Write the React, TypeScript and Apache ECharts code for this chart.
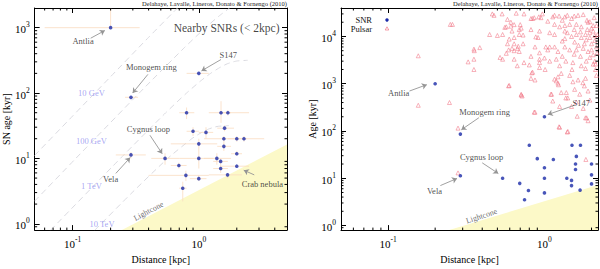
import React, { useEffect, useRef } from 'react';
import * as echarts from 'echarts';

const SERIF = "'Liberation Serif', 'DejaVu Serif', serif";
const CITATION = 'Delahaye, Lavalle, Lineros, Donato & Fornengo (2010)';

// SNR catalogue: distance [kpc], age [kyr]
const snrDistance = [0.2, 1.0, 0.29, 0.8, 1.5, 1.7, 1.6, 0.9, 1.14, 1.58, 2.0, 2.28, 1.0, 1.58, 2.0, 0.29, 0.54, 1.0, 1.39, 1.49, 0.695, 2.0, 1.49, 0.79, 1.69, 1.0, 0.746];
const snrAge = [1000, 200, 86, 50, 50, 50, 29, 26, 25, 20, 20, 20, 16.7, 15.3, 11.8, 11.3, 10, 10, 10, 9.0, 7.8, 7.6, 7.0, 5.5, 5.6, 4.9, 3.5];
const snrDistLo = [0.06, 0.8, 0.26, 0.7, 1.2, 1.5, 1.4, 0.8, 1.0, 1.1, 1.7, 2.0, 0.6, 1.4, 1.8, 0.22, 0.42, 0.7, 1.1, 1.3, 0.6, 1.5, 1.3, 0.4, 1.2, 0.85, 0.7];
const snrDistHi = [0.34, 1.2, 0.33, 0.92, 1.8, 2.5, 1.9, 1.0, 1.3, 2.0, 2.4, 3.3, 1.4, 1.8, 2.2, 0.38, 0.7, 1.3, 1.8, 1.7, 0.8, 2.5, 1.7, 1.2, 2.2, 1.15, 0.8];
const snrAgeLo = [1000, 200, 86, 40, 35, 45, 26, 22, 20, 18, 18, 18, 13, 13, 11, 10, 8, 7, 8, 8, 7, 7.6, 6, 4.5, 5, 4.5, 2.2];
const snrAgeHi = [2000, 200, 86, 60, 75, 55, 32, 30, 30, 22, 22, 22, 20, 18, 13, 12.5, 12, 13, 12, 10, 8.6, 7.6, 8, 6.5, 6, 5.5, 4.4];

// Pulsars: distance [kpc], age [kyr]
const pulsars: number[][] = [
  [0.156, 3900], [0.156, 350], [0.247, 400], [0.25, 18000], [0.258, 18000], [0.325, 2900], [0.354, 5400], [0.356, 5000],
  [0.386, 5800], [0.354, 3300], [0.354, 2000], [0.446, 11000], [0.464, 30000], [0.476, 28000], [0.5, 10500], [0.536, 30000],
  [0.54, 11000], [0.558, 15600], [0.58, 23000], [0.595, 8800], [0.595, 920], [0.28, 115], [0.28, 13],
  [0.61, 16500], [0.64, 17800], [0.62, 13000], [0.68, 6200], [0.672, 5600], [0.69, 14000], [0.7, 17800], [0.64, 9500],
  [0.73, 10700], [0.73, 7000], [0.8, 2500], [0.84, 24000], [0.92, 26000], [0.95, 25000], [0.82, 3800], [0.88, 9800],
  [0.87, 6000], [0.93, 3300], [0.93, 2200], [1.01, 2000], [0.72, 550], [0.87, 1200], [1.0, 3500], [1.05, 5200], [1.08, 6000],
  [1.13, 26000], [1.16, 28000], [1.11, 600], [1.19, 1150], [1.22, 1030],
  [0.54, 3300], [0.57, 4400], [0.59, 5200], [0.64, 5000], [0.67, 2400],
  [0.66, 31000], [0.74, 30000], [0.82, 24000], [0.86, 25000], [0.97, 30000], [1.24, 27000], [1.35, 26000], [1.49, 24000],
  [1.64, 28000], [1.77, 29000], [1.87, 22000], [1.95, 20500],
  [0.61, 20000], [0.57, 16000], [0.71, 15000], [0.82, 14000], [0.93, 13000], [1.16, 18000], [1.25, 16000], [1.35, 17000],
  [1.45, 18000], [1.6, 18000], [1.72, 16000], [1.9, 20000], [2.0, 15000], [2.05, 13000],
  [0.69, 11000], [0.91, 9500], [1.08, 12000], [1.16, 11000], [1.35, 13000], [1.4, 12000], [1.49, 10000], [1.6, 11000],
  [1.72, 9500], [1.83, 11000], [1.95, 9500], [2.1, 8200], [2.0, 7000], [1.35, 9000], [1.56, 7600],
  [0.58, 7000], [0.64, 7000], [0.62, 5600], [0.69, 4800], [1.02, 6000], [1.16, 6000], [1.22, 4800], [1.35, 6000],
  [1.45, 5200], [1.6, 5200], [1.77, 5600], [1.9, 4800], [2.05, 4100], [1.95, 3600], [2.1, 3000], [0.93, 4500],
  [0.52, 3600], [0.64, 3300], [0.74, 2800], [0.84, 1750], [0.93, 2800], [1.08, 3000], [1.19, 3300], [1.25, 2400],
  [1.37, 3000], [1.52, 2800], [1.72, 2400], [1.83, 2100], [2.05, 2600], [1.22, 1400], [1.45, 1500], [1.64, 1200],
  [1.83, 1300], [2.15, 1500],
  [0.59, 900], [0.71, 600], [0.82, 1300], [1.1, 600], [1.28, 650], [1.37, 500], [1.56, 760], [1.68, 600], [1.9, 700], [1.95, 450],
  [0.86, 250], [1.13, 430], [1.25, 330], [1.49, 330], [1.77, 300], [1.83, 190], [1.9, 165], [1.25, 120], [1.4, 95], [1.84, 25],
  [0.71, 575], [0.83, 1700], [0.87, 250], [1.16, 1250], [1.23, 950], [1.28, 1650], [1.38, 650], [1.41, 500], [1.52, 1100],
  [1.6, 410], [1.62, 205], [1.86, 190], [1.76, 1050], [1.8, 900], [1.41, 98], [1.24, 123],
  [1.55, 14000], [1.7, 12500], [1.8, 7000], [1.85, 8500], [1.95, 12000], [2.1, 10500], [2.15, 6000], [2.0, 5200],
  [1.7, 3800], [1.55, 4200], [1.3, 3800], [1.85, 3000], [2.12, 2000], [1.5, 2000], [1.3, 8000], [1.65, 6500],
  [2.05, 17000], [1.88, 14000], [1.4, 28000], [1.55, 27000], [1.3, 22000], [1.05, 21000], [2.08, 25000],
  [2.15, 17000], [2.18, 11000], [2.17, 4500], [2.12, 2600],
];

// light-cone boundary (distance, age)
const lightconeLeft = [[0.245, 0.8], [5, 16.3]];
const lightconeRight = [[0.245, 0.8], [2.2, 7.17]];

// diffusion horizons (distance, age)
const diff10GeV = [[0.05, 11.1], [0.1, 44.5], [0.2, 178], [0.4, 712], [0.678, 2000]];
const diff100GeV = [[0.05, 2.22], [0.106, 10], [0.337, 100], [0.773, 500], [1.13, 1000], [1.442, 1500], [1.753, 2000]];
const diff1TeV = [[0.067, 0.8], [0.239, 10], [0.547, 50], [0.8, 100], [1.02, 150], [1.24, 200], [1.49, 250], [1.68, 280], [1.87, 300], [2.02, 310], [2.44, 317]];
const diff10TeV = [[0.15, 0.8], [0.296, 3], [0.567, 10], [0.879, 20], [1.056, 25], [1.19, 28], [1.32, 30], [1.43, 31], [1.73, 31.7]];
const diffNames = ['10 GeV', '100 GeV', '1 TeV', '10 TeV'];
const diffLabelAt = [[0.141, 99], [0.141, 18.7], [0.141, 3.8], [0.171, 1.0]];

// annotations
const leftNotes = ['Antlia', 'Monogem ring', 'S147', 'Cygnus loop', 'Vela', 'Crab nebula'];
const leftNoteAt = [[0.121, 635], [0.42, 252], [1.71, 385], [0.398, 28], [0.2, 4.9], [3.19, 4.0]];
const leftArrows = [
  [[0.139, 690], [0.18, 905]],
  [[0.395, 193], [0.299, 100]],
  [[1.5, 326], [1.05, 218]],
  [[0.41, 22.6], [0.513, 11.8]],
  [[0.22, 5.9], [0.286, 10.3]],
  [[2.75, 5.6], [2.27, 6.6]],
];
const rightNotes = ['Antlia', 'Monogem ring', 'S147', 'Cygnus loop', 'Vela'];
const rightNoteAt = [[0.117, 622], [0.414, 251], [1.72, 393], [0.396, 28.8], [0.198, 5.3]];
const rightArrows = [
  [[0.137, 700], [0.177, 955]],
  [[0.381, 191], [0.294, 106]],
  [[1.56, 352], [1.05, 222]],
  [[0.4, 21.2], [0.507, 12.6]],
  [[0.216, 7.0], [0.276, 9.9]],
];

// minor ticks
const xMinorLeft = [0.06, 0.07, 0.08, 0.09, 0.2, 0.3, 0.4, 0.5, 0.6, 0.7, 0.8, 0.9, 2, 3, 4];
const yMinorLeft = [0.9, 2, 3, 4, 5, 6, 7, 8, 9, 20, 30, 40, 50, 60, 70, 80, 90, 200, 300, 400, 500, 600, 700, 800, 900];
const xMinorRight = [0.06, 0.07, 0.08, 0.09, 0.2, 0.3, 0.4, 0.5, 0.6, 0.7, 0.8, 0.9, 2];
const yMinorRight = [0.9, 2, 3, 4, 5, 6, 7, 8, 9, 20, 30, 40, 50, 60, 70, 80, 90, 200, 300, 400, 500, 600, 700, 800, 900,
  2000, 3000, 4000, 5000, 6000, 7000, 8000, 9000, 20000, 30000];

const SNR_COLOR = '#1a2aa8';
const PSR_COLOR = '#f07585';

const powerLabel = (v: number) => {
  const l = Math.log10(v);
  const e = Math.round(l);
  if (Math.abs(l - e) > 1e-6) return '';
  return `{b|10}{s|${e}}`;
};
const axisRich = {
  b: { fontSize: 11, fontFamily: SERIF, color: '#000', lineHeight: 14, verticalAlign: 'bottom' },
  s: { fontSize: 7.5, fontFamily: SERIF, color: '#000', lineHeight: 7, verticalAlign: 'top' },
};

function logAxis(grid: number, position: string, min: number, max: number, showLabel: boolean, name = '', nameGap = 0) {
  return {
    type: 'log', logBase: 10, gridIndex: grid, position, min, max,
    axisLine: { show: true, onZero: false, lineStyle: { color: '#000', width: 1 } },
    axisTick: { show: true, inside: true, length: 5, lineStyle: { color: '#000', width: 1 } },
    axisLabel: { show: showLabel, formatter: powerLabel, rich: axisRich, margin: 5, showMinLabel: false, showMaxLabel: false },
    splitLine: { show: false },
    minorTick: { show: false },
    name, nameLocation: 'middle', nameGap,
    nameTextStyle: { fontFamily: SERIF, fontSize: 10, color: '#000' },
  };
}

function minorTicks(xi: number, yi: number, values: number[], dir: 'x' | 'y') {
  return {
    type: 'custom', xAxisIndex: xi, yAxisIndex: yi, silent: true, clip: false, z: 10,
    data: values.map((v) => (dir === 'x' ? [v, 1] : [1, v])),
    renderItem: (params: any, api: any) => {
      const cs = params.coordSys;
      const p = api.coord([api.value(0), api.value(1)]);
      const style = { stroke: '#000', lineWidth: 1 };
      if (dir === 'x') {
        return {
          type: 'group', children: [
            { type: 'line', shape: { x1: p[0], y1: cs.y + cs.height, x2: p[0], y2: cs.y + cs.height - 2.5 }, style },
            { type: 'line', shape: { x1: p[0], y1: cs.y, x2: p[0], y2: cs.y + 2.5 }, style },
          ],
        };
      }
      return {
        type: 'group', children: [
          { type: 'line', shape: { x1: cs.x, y1: p[1], x2: cs.x + 2.5, y2: p[1] }, style },
          { type: 'line', shape: { x1: cs.x + cs.width, y1: p[1], x2: cs.x + cs.width - 2.5, y2: p[1] }, style },
        ],
      };
    },
  };
}

function notes(xi: number, yi: number, names: string[], at: number[][], color: string, fontSize: number, rotate = 0) {
  return {
    type: 'scatter', xAxisIndex: xi, yAxisIndex: yi, silent: true, z: 20,
    symbolSize: 1, itemStyle: { color: 'rgba(0,0,0,0)' },
    data: names.map((n, i) => ({ name: n, value: at[i] })),
    label: { show: true, position: 'inside', formatter: '{b}', color, fontSize, fontFamily: SERIF, rotate },
  };
}

function arrows(xi: number, yi: number, list: number[][][]) {
  return {
    type: 'lines', coordinateSystem: 'cartesian2d', xAxisIndex: xi, yAxisIndex: yi, silent: true, z: 15,
    symbol: ['none', 'arrow'], symbolSize: 5,
    lineStyle: { color: '#959595', width: 0.9, opacity: 1 },
    data: list.map((c) => ({ coords: c })),
  };
}

function lightcone(xi: number, yi: number, data: number[][]) {
  return {
    type: 'line', xAxisIndex: xi, yAxisIndex: yi, silent: true, z: 1, symbol: 'none',
    data, lineStyle: { width: 0 }, areaStyle: { color: '#fcf9c8', opacity: 1, origin: 'start' },
  };
}

function diffLine(data: number[][]) {
  return {
    type: 'line', xAxisIndex: 0, yAxisIndex: 0, silent: true, z: 2, symbol: 'none', smooth: 0.2,
    data, lineStyle: { color: '#dadae0', width: 1, type: [6, 4] },
  };
}

export default function App() {
  const ref = useRef<HTMLDivElement>(null);
  useEffect(() => {
    if (!ref.current) return;
    const chart = echarts.init(ref.current, null, { renderer: 'svg' });
    const snrPoints = snrDistance.map((d, i) => [d, snrAge[i]]);
    const errRows = snrDistance.map((d, i) => [d, snrAge[i], snrDistLo[i], snrDistHi[i], snrAgeLo[i], snrAgeHi[i]]);
    const option: any = {
      animation: false,
      backgroundColor: '#fff',
      textStyle: { fontFamily: SERIF },
      grid: [
        { left: 28, right: 313, top: 8, bottom: 26 },
        { left: 341, right: 2, top: 8, bottom: 26 },
      ],
      xAxis: [
        logAxis(0, 'bottom', 0.05, 5, true, 'Distance [kpc]', 14),
        logAxis(0, 'top', 0.05, 5, false),
        logAxis(1, 'bottom', 0.05, 2.2, true, 'Distance [kpc]', 14),
        logAxis(1, 'top', 0.05, 2.2, false),
      ],
      yAxis: [
        logAxis(0, 'left', 0.8, 2000, true, 'SN age [kyr]', 18),
        logAxis(0, 'right', 0.8, 2000, false),
        logAxis(1, 'left', 0.8, 40000, true, 'Age [kyr]', 19),
        logAxis(1, 'right', 0.8, 40000, false),
      ],
      graphic: [
        { type: 'text', right: 313, top: 0, style: { text: CITATION, fontSize: 6.5, fontFamily: SERIF, fill: '#222' } },
        { type: 'text', right: 2, top: 0, style: { text: CITATION, fontSize: 6.5, fontFamily: SERIF, fill: '#222' } },
        { type: 'text', x: 372, y: 20, style: { text: 'SNR', fontSize: 8.5, fontFamily: SERIF, fill: '#111', align: 'right', verticalAlign: 'middle' } },
        { type: 'text', x: 372, y: 28.5, style: { text: 'Pulsar', fontSize: 8.5, fontFamily: SERIF, fill: '#111', align: 'right', verticalAlign: 'middle' } },
        { type: 'circle', shape: { cx: 387, cy: 20, r: 1.7 }, style: { fill: SNR_COLOR } },
        { type: 'polygon', shape: { points: [[387, 26.8], [385.2, 30], [388.8, 30]] }, style: { fill: 'none', stroke: PSR_COLOR, lineWidth: 0.7 } },
      ],
      series: [
        lightcone(0, 0, lightconeLeft),
        diffLine(diff10GeV), diffLine(diff100GeV), diffLine(diff1TeV), diffLine(diff10TeV),
        {
          type: 'custom', xAxisIndex: 0, yAxisIndex: 0, silent: true, z: 5,
          data: errRows, encode: { x: 0, y: 1 },
          renderItem: (params: any, api: any) => {
            const d = api.value(0), t = api.value(1);
            const a = api.coord([api.value(2), t]);
            const b = api.coord([api.value(3), t]);
            const c = api.coord([d, api.value(4)]);
            const e = api.coord([d, api.value(5)]);
            const style = { stroke: '#fadcc0', lineWidth: 0.8 };
            return {
              type: 'group', children: [
                { type: 'line', shape: { x1: a[0], y1: a[1], x2: b[0], y2: b[1] }, style },
                { type: 'line', shape: { x1: c[0], y1: c[1], x2: e[0], y2: e[1] }, style },
              ],
            };
          },
        },
        {
          type: 'scatter', name: 'SNR', xAxisIndex: 0, yAxisIndex: 0, z: 8, symbol: 'circle', symbolSize: 3.6,
          itemStyle: { color: SNR_COLOR }, data: snrPoints,
        },
        notes(0, 0, diffNames, diffLabelAt, '#8f8fef', 8.5),
        notes(0, 0, leftNotes, leftNoteAt, '#222', 8.5),
        notes(0, 0, ['Nearby SNRs (< 2kpc)'], [[1.66, 1000]], '#111', 11.5),
        notes(0, 0, ['Lightcone'], [[0.4, 1.56]], '#444', 8, 28),
        arrows(0, 0, leftArrows),
        minorTicks(0, 0, xMinorLeft, 'x'),
        minorTicks(0, 0, yMinorLeft, 'y'),

        lightcone(2, 2, lightconeRight),
        {
          type: 'scatter', name: 'Pulsar', xAxisIndex: 2, yAxisIndex: 2, z: 6, symbol: 'triangle', symbolSize: 4,
          itemStyle: { color: 'rgba(255,255,255,0)', borderColor: PSR_COLOR, borderWidth: 0.7 }, data: pulsars,
        },
        {
          type: 'scatter', name: 'SNR', xAxisIndex: 2, yAxisIndex: 2, z: 8, symbol: 'circle', symbolSize: 3.6,
          itemStyle: { color: SNR_COLOR }, data: snrPoints,
        },
        notes(2, 2, rightNotes, rightNoteAt, '#222', 8.5),
        notes(2, 2, ['Lightcone'], [[0.396, 1.58]], '#444', 8, 18),
        arrows(2, 2, rightArrows),
        minorTicks(2, 2, xMinorRight, 'x'),
        minorTicks(2, 2, yMinorRight, 'y'),
      ],
    };
    chart.setOption(option);
    return () => chart.dispose();
  }, []);
  return <div ref={ref} style={{ position: 'fixed', left: 0, top: 0, width: 600, height: 269 }} />;
}
